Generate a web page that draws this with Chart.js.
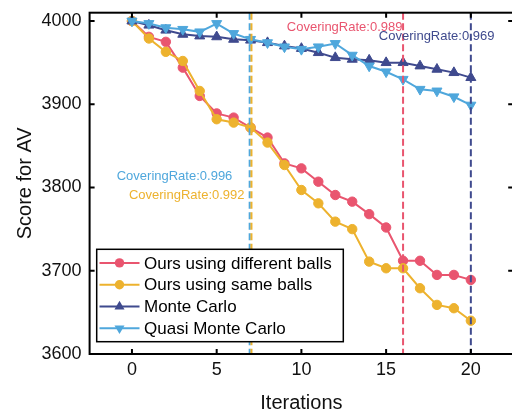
<!DOCTYPE html>
<html>
<head>
<meta charset="utf-8">
<script src="https://cdn.jsdelivr.net/npm/chart.js@4.4.0/dist/chart.umd.min.js"></script>
<style>
  html, body { margin: 0; padding: 0; background: #fff; overflow: hidden; }
  #wrap { width: 512px; height: 413px; overflow: hidden; }
</style>
</head>
<body>
<div id="wrap"><canvas id="chart" width="520" height="413"></canvas></div>
<script>
// values
const iterations = [0, 1, 2, 3, 4, 5, 6, 7, 8, 9, 10, 11, 12, 13, 14, 15, 16, 17, 18, 19, 20];
const diffBalls  = [4000, 3981, 3975, 3944, 3910, 3889, 3884, 3872, 3860, 3829, 3823, 3807, 3791, 3783, 3768, 3752, 3712, 3712, 3695, 3695, 3689];
const sameBalls  = [4000, 3979, 3963, 3952, 3916, 3882, 3878, 3872, 3854, 3827, 3797, 3781, 3759, 3750, 3711, 3703, 3703, 3679, 3659, 3655, 3640];
const monteCarlo = [4000, 3995, 3989, 3984, 3982, 3981, 3978, 3977, 3974, 3970, 3967, 3962, 3956, 3954, 3953, 3950, 3950, 3946, 3942, 3938, 3932];
const quasiMC    = [4000, 3997, 3992, 3990, 3987, 3997, 3985, 3978, 3974, 3969, 3966, 3969, 3973, 3959, 3946, 3939, 3930, 3918, 3916, 3909, 3899];

const seriesNames = ['Ours using different balls', 'Ours using same balls', 'Monte Carlo', 'Quasi Monte Carlo'];
const xTicks = [0, 5, 10, 15, 20];
const yTicks = [3600, 3700, 3800, 3900, 4000];

// covering-rate markers: iteration where each method stops, and its rate
const coverIters = [7, 7, 16, 20];
const coverRates = ['0.996', '0.992', '0.989', '0.969'];
// where each note sits, in data units (x = iteration, y = score)
const noteX = [-0.9, -0.18, 9.14, 14.57];
const noteY = [3813.8, 3791, 3992.4, 3982];

const FONT = '"Liberation Sans", Arial, sans-serif';
const RED = '#e9556f', GOLD = '#edb22e', NAVY = '#3f4a8e', SKY = '#4fa7dc';
const colors = [RED, GOLD, NAVY, SKY];
const coverColors = [SKY, GOLD, RED, NAVY];
const coverNudge = [-0.9, 0.9, 0, 0];
const markers = [
  { style: 'circle', radius: 4.7, rotation: 0 },
  { style: 'circle', radius: 4.7, rotation: 0 },
  { style: 'triangle', radius: 5.8, rotation: 0 },
  { style: 'triangle', radius: 5.8, rotation: 180 }
];

function drawMarker(ctx, m, x, y) {
  ctx.beginPath();
  if (m.style === 'circle') {
    ctx.arc(x, y, m.radius, 0, Math.PI * 2);
  } else {
    let rad = m.rotation * Math.PI / 180;
    for (let k = 0; k < 3; k++) {
      const px = x + Math.sin(rad) * m.radius, py = y - Math.cos(rad) * m.radius;
      k ? ctx.lineTo(px, py) : ctx.moveTo(px, py);
      rad += Math.PI * 2 / 3;
    }
    ctx.closePath();
  }
  ctx.fill();
}

const extras = {
  id: 'extras',
  afterDatasetsDraw(chart) {
    const { ctx, chartArea: a, scales: { x, y } } = chart;
    ctx.save();

    // dashed covering lines
    ctx.lineWidth = 2;
    ctx.setLineDash([7, 3.5]);
    coverIters.forEach((it, i) => {
      const px = x.getPixelForValue(it) + coverNudge[i];
      ctx.strokeStyle = coverColors[i];
      ctx.beginPath();
      ctx.moveTo(px, a.top);
      ctx.lineTo(px, a.bottom);
      ctx.stroke();
    });
    ctx.setLineDash([]);

    // notes
    ctx.font = '13px ' + FONT;
    ctx.textAlign = 'left';
    ctx.textBaseline = 'middle';
    coverRates.forEach((r, i) => {
      ctx.fillStyle = coverColors[i];
      ctx.fillText('CoveringRate:' + r, x.getPixelForValue(noteX[i]), y.getPixelForValue(noteY[i]));
    });

    // frame with inward ticks
    ctx.strokeStyle = '#000';
    ctx.lineWidth = 2;
    ctx.strokeRect(a.left, a.top, a.right - a.left, a.bottom - a.top);
    ctx.beginPath();
    xTicks.forEach(v => {
      const px = x.getPixelForValue(v);
      ctx.moveTo(px, a.bottom); ctx.lineTo(px, a.bottom - 5);
      ctx.moveTo(px, a.top); ctx.lineTo(px, a.top + 5);
    });
    yTicks.forEach(v => {
      const py = y.getPixelForValue(v);
      ctx.moveTo(a.left, py); ctx.lineTo(a.left + 5, py);
      ctx.moveTo(a.right, py); ctx.lineTo(a.right - 5, py);
    });
    ctx.stroke();

    // legend
    const lx = 96.7, ly = 249.3, lw = 246.6, lh = 92.4;
    ctx.fillStyle = '#fff';
    ctx.fillRect(lx, ly, lw, lh);
    ctx.lineWidth = 1.5;
    ctx.strokeRect(lx, ly, lw, lh);
    ctx.font = '17px ' + FONT;
    seriesNames.forEach((name, i) => {
      const ry = 262.9 + i * 21.8;
      ctx.strokeStyle = colors[i];
      ctx.fillStyle = colors[i];
      ctx.lineWidth = 2;
      ctx.beginPath();
      ctx.moveTo(99.5, ry); ctx.lineTo(139.5, ry);
      ctx.stroke();
      drawMarker(ctx, markers[i], 119.5, ry);
      ctx.fillStyle = '#000';
      ctx.fillText(name, 144, ry + 1);
    });
    ctx.restore();
  }
};

const seriesData = [diffBalls, sameBalls, monteCarlo, quasiMC];
const datasets = seriesData.map((vals, i) => ({
  label: seriesNames[i],
  data: vals.map((v, k) => ({ x: iterations[k], y: v })),
  borderColor: colors[i],
  backgroundColor: colors[i],
  borderWidth: 2,
  pointStyle: markers[i].style,
  pointRadius: markers[i].radius,
  pointRotation: markers[i].rotation,
  pointBorderWidth: 1,
  pointBackgroundColor: colors[i],
  order: 3 - i,
  tension: 0
}));

new Chart(document.getElementById('chart'), {
  type: 'line',
  data: { datasets },
  options: {
    responsive: false,
    animation: false,
    layout: { padding: { top: 12.7, right: 6.6, left: 0, bottom: 0 } },
    plugins: { legend: { display: false }, tooltip: { enabled: false } },
    scales: {
      x: {
        type: 'linear',
        min: -2.5,
        max: 22.5,
        grid: { display: false, drawTicks: false },
        border: { display: false },
        afterBuildTicks: s => { s.ticks = xTicks.map(v => ({ value: v })); },
        afterFit: s => { s.height = 59; s.paddingLeft = 0; s.paddingRight = 0; },
        ticks: {
          padding: 5,
          color: '#111',
          maxRotation: 0,
          callback: v => String(v),
          font: { family: FONT, size: 18 }
        },
        title: {
          display: true,
          text: 'Iterations',
          color: '#111',
          padding: { top: 0, bottom: -2 },
          font: { family: FONT, size: 20 }
        }
      },
      y: {
        min: 3600,
        max: 4010,
        grid: { display: false, drawTicks: false },
        border: { display: false },
        afterBuildTicks: s => { s.ticks = yTicks.map(v => ({ value: v })); },
        afterFit: s => { s.width = 89.6; s.paddingTop = 0; s.paddingBottom = 0; },
        ticks: {
          padding: 8,
          color: '#111',
          callback: v => String(v),
          font: { family: FONT, size: 18 }
        },
        title: {
          display: true,
          text: 'Score for AV',
          color: '#111',
          padding: { top: 13, bottom: 0 },
          font: { family: FONT, size: 20 }
        }
      }
    }
  },
  plugins: [extras]
});
</script>
</body>
</html>
